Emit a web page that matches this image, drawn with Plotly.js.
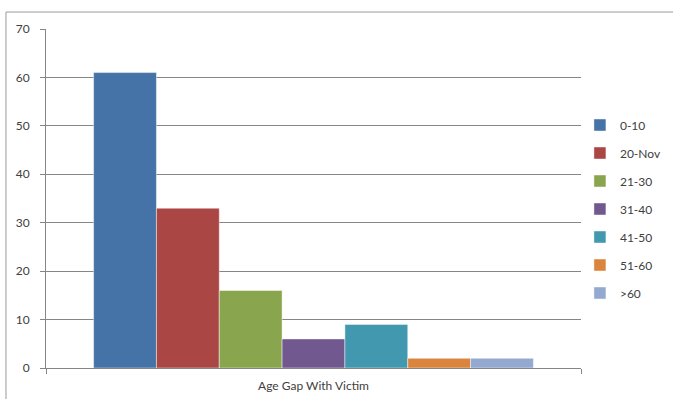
<!DOCTYPE html>
<html>
<head>
<meta charset="utf-8">
<script src="https://cdn.plot.ly/plotly-3.0.1.min.js"></script>
<style>
html,body{margin:0;padding:0;background:#fff;}
#chart{width:674px;height:399px;}
</style>
</head>
<body>
<div id="chart"></div>
<script>
var category = ['Age Gap With Victim'];
var seriesNames = ['0-10', '20-Nov', '21-30', '31-40', '41-50', '51-60', '>60'];
var seriesValues = [61, 33, 16, 6, 9, 2, 2];
var seriesColors = ['#4572A7', '#AA4643', '#89A54E', '#71588F', '#4198AF', '#DB843D', '#93A9CF'];
var yTicks = [0, 10, 20, 30, 40, 50, 60, 70];

var traces = seriesNames.map(function (name, i) {
  return {
    type: 'bar',
    name: name,
    x: category,
    y: [seriesValues[i]],
    legendgroup: 'g' + i,
    marker: { color: seriesColors[i], line: { color: 'rgba(255,255,255,0.45)', width: 1 } },
    hoverinfo: 'none'
  };
});

var font = 'Lato, "Open Sans", "DejaVu Sans", sans-serif';

var layout = {
  width: 674,
  height: 399,
  margin: { l: 46, r: 93, t: 29, b: 31, pad: 0, autoexpand: false },
  paper_bgcolor: '#ffffff',
  plot_bgcolor: '#ffffff',
  font: { family: font, size: 12, color: '#404040' },
  barmode: 'group',
  bargap: 0.178,
  bargroupgap: 0,
  showlegend: true,
  legend: {
    x: 0.998, xanchor: 'left',
    y: 0.469, yanchor: 'middle',
    font: { family: font, size: 12, color: '#404040' },
    tracegroupgap: 9,
    itemwidth: 30,
    bgcolor: 'rgba(0,0,0,0)'
  },
  xaxis: {
    type: 'category',
    showline: true,
    linecolor: '#868686',
    linewidth: 1,
    ticks: 'outside',
    tickson: 'boundaries',
    ticklen: 5,
    tickcolor: '#868686',
    showgrid: false,
    ticklabelstandoff: 7,
    tickfont: { family: font, size: 12, color: '#404040' },
    fixedrange: true
  },
  yaxis: {
    range: [0, 70],
    tickvals: yTicks,
    ticktext: yTicks.map(String),
    showline: true,
    linecolor: '#868686',
    linewidth: 1,
    ticks: 'outside',
    ticklen: 5,
    tickcolor: '#868686',
    showgrid: true,
    gridcolor: '#868686',
    gridwidth: 1,
    zeroline: false,
    ticklabelstandoff: 8,
    tickfont: { family: font, size: 12, color: '#404040' },
    fixedrange: true
  },
  shapes: [
    { type: 'line', xref: 'paper', yref: 'paper', x0: -0.0748, x1: 1.172, y0: 1.0501, y1: 1.0501,
      line: { color: '#9a9a9a', width: 1 } },
    { type: 'line', xref: 'paper', yref: 'paper', x0: -0.0748, x1: -0.0748, y0: 1.0501, y1: -0.1,
      line: { color: '#9a9a9a', width: 1 } }
  ]
};

Plotly.newPlot('chart', traces, layout, { displayModeBar: false, staticPlot: true });
</script>
</body>
</html>
